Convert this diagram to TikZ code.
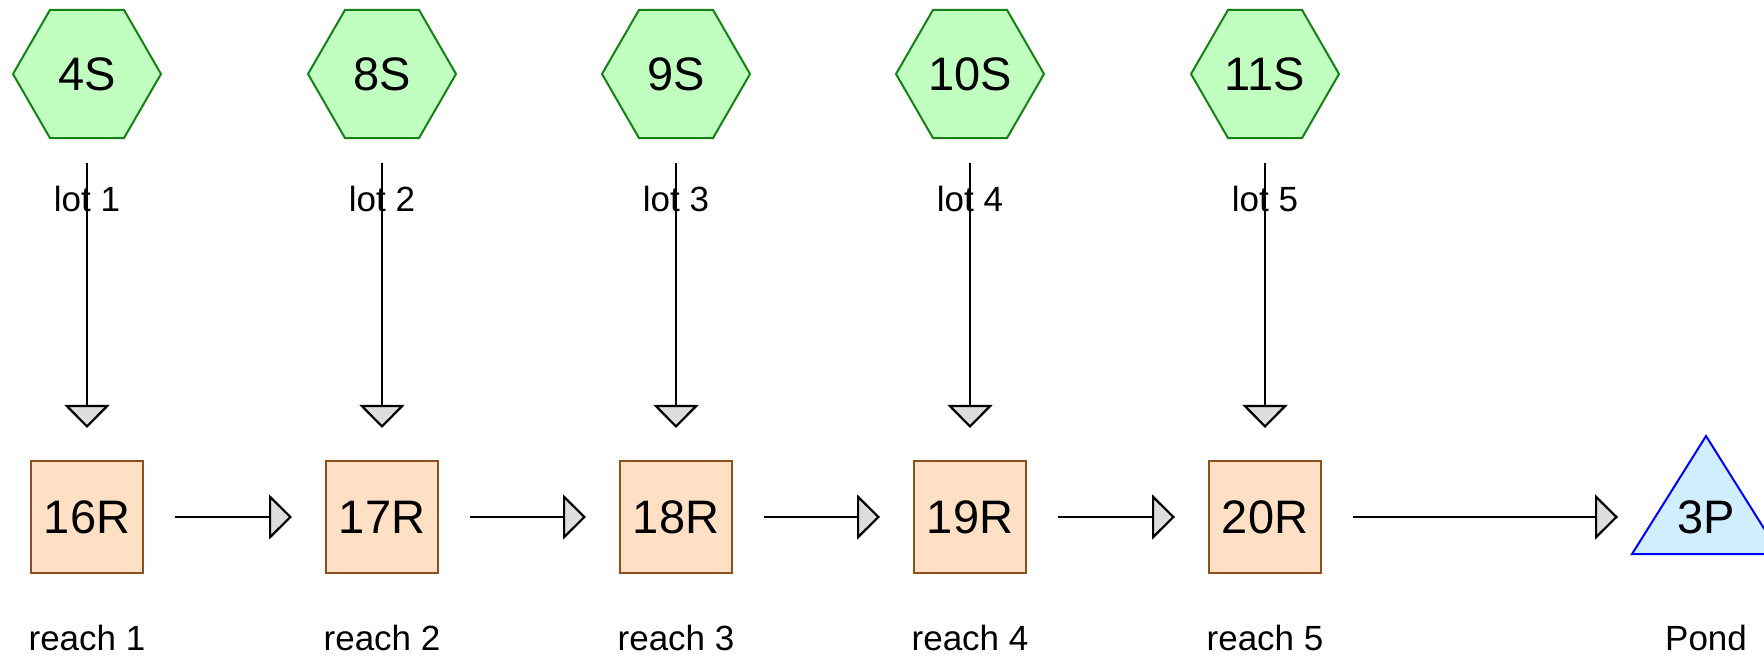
\documentclass[tikz,border=0pt]{standalone}
\usepackage{fontspec}
\setmainfont{Liberation Sans}
\usetikzlibrary{shapes.geometric,arrows.meta}
\definecolor{hexfill}{RGB}{192,255,192}
\definecolor{hexdraw}{RGB}{20,130,20}
\definecolor{sqfill}{RGB}{255,224,196}
\definecolor{sqdraw}{RGB}{140,80,30}
\definecolor{trifill}{RGB}{208,238,255}
\definecolor{tridraw}{RGB}{0,0,255}
\definecolor{tipfill}{RGB}{221,221,221}
\begin{document}
\begin{tikzpicture}[x=0.5pt,y=-0.5pt,
 hexnode/.style={regular polygon, regular polygon sides=6, minimum size=74pt, inner sep=0pt, fill=hexfill, draw=hexdraw, line width=1pt, font=\fontsize{23.5}{27}\selectfont},
 reachnode/.style={rectangle, minimum size=56pt, inner sep=0pt, fill=sqfill, draw=sqdraw, line width=1pt, font=\fontsize{23.5}{27}\selectfont},
 pondtext/.style={inner sep=0pt, font=\fontsize{23.5}{27}\selectfont},
 lbl/.style={anchor=base, inner sep=0pt, font=\fontsize{17.5}{21}\selectfont},
 flow/.style={line width=1.1pt, -{Triangle[length=11.5pt,width=22.5pt,fill=tipfill]}}
]
\useasboundingbox (0,0) rectangle (1764,656);
% labels
\node[lbl] (l1) at (87,212) {lot 1};
\node[lbl] (l2) at (382,212) {lot 2};
\node[lbl] (l3) at (676,212) {lot 3};
\node[lbl] (l4) at (970,212) {lot 4};
\node[lbl] (l5) at (1265,212) {lot 5};
\node[lbl] (q1) at (87,650) {reach 1};
\node[lbl] (q2) at (382,650) {reach 2};
\node[lbl] (q3) at (676,650) {reach 3};
\node[lbl] (q4) at (970,650) {reach 4};
\node[lbl] (q5) at (1265,650) {reach 5};
\node[lbl] (qp) at (1706,650) {Pond};
% hexagons
\node[hexnode] (h1) at (87,74) {4S};
\node[hexnode] (h2) at (382,74) {8S};
\node[hexnode] (h3) at (676,74) {9S};
\node[hexnode] (h4) at (970,74) {10S};
\node[hexnode] (h5) at (1265,74) {11S};
% reaches
\node[reachnode] (r1) at (87,517) {16R};
\node[reachnode] (r2) at (382,517) {17R};
\node[reachnode] (r3) at (676,517) {18R};
\node[reachnode] (r4) at (970,517) {19R};
\node[reachnode] (r5) at (1265,517) {20R};
% pond
\draw[fill=trifill, draw=tridraw, line width=1pt] (1706,436) -- (1632,554) -- (1780,554) -- cycle;
\node[pondtext] (p3) at (1706,517) {3P};
% connectors
\foreach \i in {1,...,5}{
  \draw[flow, shorten <=12pt, shorten >=16pt] (h\i) -- (r\i);
}
\draw[flow, shorten <=15.5pt, shorten >=16.5pt] (r1) -- (r2);
\draw[flow, shorten <=15.5pt, shorten >=16.5pt] (r2) -- (r3);
\draw[flow, shorten <=15.5pt, shorten >=16.5pt] (r3) -- (r4);
\draw[flow, shorten <=15.5pt, shorten >=16.5pt] (r4) -- (r5);
\draw[flow, shorten <=15.5pt, shorten >=44pt] (r5) -- (p3.center);
\end{tikzpicture}
\end{document}
